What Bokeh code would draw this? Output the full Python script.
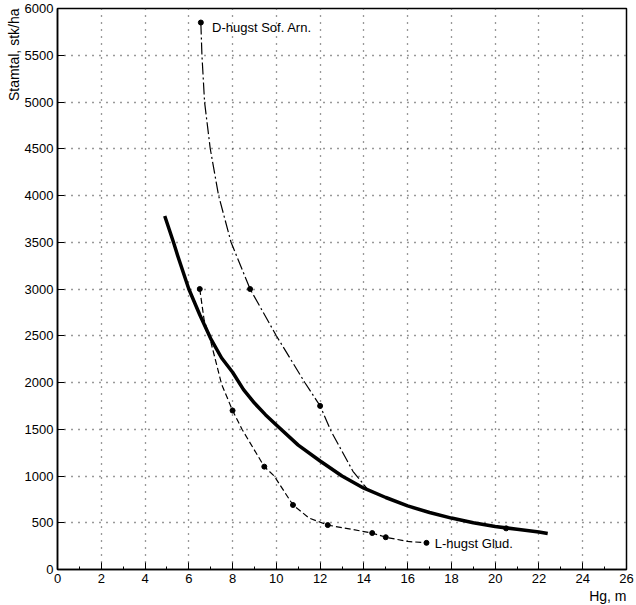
from bokeh.plotting import figure
from bokeh.models import Range1d, FixedTicker, Title
from bokeh.core.properties import value
from bokeh.embed import file_html
from bokeh.resources import INLINE

# Thick main curve
main_x = [4.9, 5.3, 5.5, 6.0, 6.5, 7.0, 7.5, 8.0, 8.5, 9.0, 9.5, 10.0, 11.0, 12.0,
          13.0, 14.0, 15.0, 16.0, 17.0, 18.0, 19.0, 20.0, 21.0, 22.0, 22.4]
main_y = [3780, 3500, 3350, 3000, 2725, 2470, 2262, 2110, 1924, 1780, 1656, 1545,
          1330, 1160, 1000, 870, 770, 680, 610, 550, 500, 460, 430, 400, 385]

# D-hugst Sof. Arn. (dash-dot)
d_x = [6.55, 6.6, 6.72, 6.98, 7.36, 7.93, 8.8, 10.0, 11.3, 12.0, 12.5, 13.5,
       14.2, 16.0, 18.0, 20.5]
d_y = [5850, 5500, 5000, 4500, 4000, 3500, 3000, 2500, 2000, 1750, 1480, 1050,
       850, 680, 550, 440]
d_mx = [6.55, 8.8, 12.0, 20.5]
d_my = [5850, 3000, 1750, 440]

# L-hugst Glud. (dashed)
l_x = [6.5, 6.7, 7.0, 7.5, 8.0, 8.43, 9.45, 9.9, 10.76, 11.5, 12.35, 14.38,
       15.0, 16.0, 16.86]
l_y = [3000, 2670, 2440, 1980, 1700, 1500, 1100, 1000, 690, 550, 475, 390,
       345, 300, 285]
l_mx = [6.5, 8.0, 9.45, 10.76, 12.35, 14.38, 15.0, 16.86]
l_my = [3000, 1700, 1100, 690, 475, 390, 345, 285]

x_ticks = list(range(0, 27, 2))
x_minor = list(range(1, 26, 2))
y_ticks = list(range(0, 6001, 500))

labels_text = ["D-hugst Sof. Arn.", "L-hugst Glud."]
labels_x = [7.06, 17.24]
labels_y = [5800, 275]

x_title = "Hg, m"
y_title = "Stamtal, stk/ha"

FONT = "Liberation Sans"

p = figure(width=636, height=605, output_backend="svg", toolbar_location=None,
           x_range=Range1d(0, 26), y_range=Range1d(0, 6000),
           min_border_left=57, min_border_right=10, min_border_top=8,
           min_border_bottom=36)

p.background_fill_color = "white"
p.border_fill_color = "white"
p.outline_line_color = "black"
p.outline_line_width = 1.5

p.xaxis.ticker = FixedTicker(ticks=x_ticks, minor_ticks=x_minor)
p.yaxis.ticker = FixedTicker(ticks=y_ticks, minor_ticks=[])
p.xgrid.ticker = FixedTicker(ticks=x_ticks)
p.ygrid.ticker = FixedTicker(ticks=y_ticks)

for g in (p.xgrid, p.ygrid):
    g.grid_line_color = "#333333"
    g.grid_line_dash = "1 6"
    g.grid_line_width = 1.3

for ax in (p.xaxis, p.yaxis):
    ax.axis_line_color = "black"
    ax.axis_line_width = 1.5
    ax.major_tick_in = 7
    ax.major_tick_out = 0
    ax.minor_tick_in = 3
    ax.minor_tick_out = 0
    ax.major_tick_line_color = "black"
    ax.minor_tick_line_color = "black"
    ax.major_label_text_font = FONT
    ax.major_label_text_font_size = "13px"
    ax.major_label_text_color = "black"

p.xaxis.major_label_standoff = 4
p.yaxis.major_label_standoff = 4

p.add_layout(Title(text=y_title, align="right", text_font=FONT,
                   text_font_size="14px", text_font_style="normal",
                   text_color="black", standoff=0, offset=0), "left")
p.add_layout(Title(text=x_title, align="right", text_font=FONT,
                   text_font_size="14px", text_font_style="normal",
                   text_color="black", standoff=0, offset=0), "below")

p.line(l_x, l_y, line_color="black", line_width=1.2, line_dash="6 3")
p.scatter(l_mx, l_my, size=5, color="black")

p.line(d_x, d_y, line_color="black", line_width=1.2, line_dash="12 3 2 3")
p.scatter(d_mx, d_my, size=5, color="black")

p.line(main_x, main_y, line_color="black", line_width=3.5, line_join="round")

p.text(labels_x, labels_y, text=labels_text, text_font=value(FONT),
       text_font_size="13px", text_baseline="middle", text_color="black")

open("out.html", "w").write(file_html(p, INLINE))
